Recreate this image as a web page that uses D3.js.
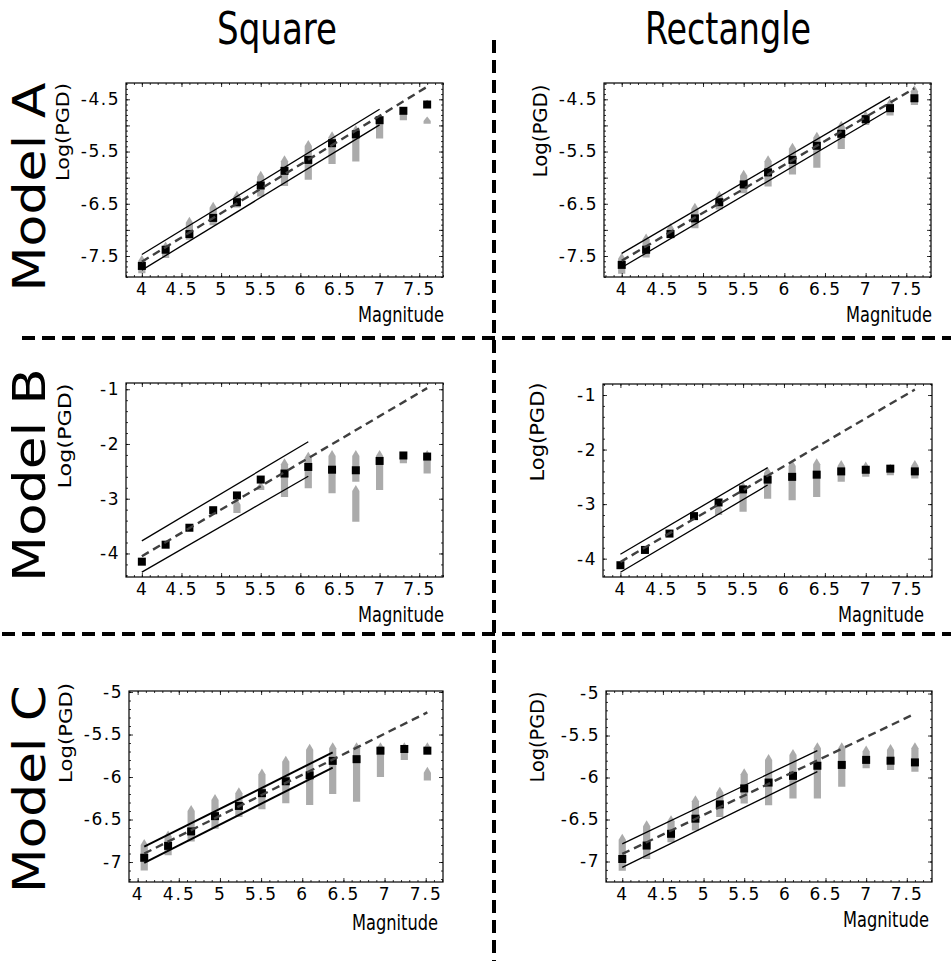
<!DOCTYPE html>
<html>
<head>
<meta charset="utf-8">
<script src="https://cdn.jsdelivr.net/npm/d3@7"></script>
<style>
  body { margin: 0; background: #fff; }
  svg { display: block; font-family: "DejaVu Sans", sans-serif; }
</style>
</head>
<body>
<script>
// ---- data ----
const mags = [4.0, 4.3, 4.6, 4.9, 5.2, 5.5, 5.8, 6.1, 6.4, 6.7, 7.0, 7.3, 7.6];
const magsCSquare = [4.08, 4.37, 4.65, 4.94, 5.23, 5.51, 5.8, 6.09, 6.37, 6.66, 6.95, 7.24, 7.52];

const xTickLabels = [4, 4.5, 5, 5.5, 6, 6.5, 7, 7.5];
const yTicksA = [-4.5, -5.5, -6.5, -7.5];
const yTicksB = [-1, -2, -3, -4];
const yTicksC = [-5, -5.5, -6, -6.5, -7];

// median Log(PGD) per magnitude (black squares)
const medASquare = [-7.69, -7.38, -7.08, -6.77, -6.47, -6.15, -5.87, -5.66, -5.34, -5.17, -4.9, -4.72, -4.6];
const medARect = [-7.67, -7.38, -7.08, -6.78, -6.47, -6.13, -5.9, -5.66, -5.39, -5.16, -4.88, -4.67, -4.48];
const medBSquare = [-4.15, -3.84, -3.53, -3.21, -2.94, -2.65, -2.54, -2.42, -2.47, -2.48, -2.31, -2.21, -2.23];
const medBRect = [-4.12, -3.84, -3.54, -3.22, -2.97, -2.73, -2.55, -2.5, -2.46, -2.4, -2.37, -2.35, -2.4];
const medCSquare = [-6.95, -6.81, -6.64, -6.46, -6.34, -6.19, -6.05, -5.98, -5.81, -5.79, -5.69, -5.67, -5.69];
const medCRect = [-6.97, -6.81, -6.67, -6.49, -6.32, -6.13, -6.06, -5.98, -5.86, -5.85, -5.79, -5.8, -5.82];

// grey scatter of all runs: [magnitude, lowest, highest]
const spreadASquare = [
  [4.0, -7.83, -7.48], [4.3, -7.54, -7.22], [4.6, -7.19, -6.75], [4.9, -6.91, -6.46],
  [5.2, -6.57, -6.25], [5.5, -6.36, -5.87], [5.8, -6.16, -5.57], [6.1, -6.04, -5.28],
  [6.4, -5.74, -5.11], [6.7, -5.69, -4.99], [7.0, -5.25, -4.86], [7.3, -4.9, -4.67],
  [7.6, -4.61, -4.51], [7.6, -4.97, -4.83]
];
const spreadARect = [
  [4.0, -7.84, -7.44], [4.3, -7.53, -7.07], [4.6, -7.16, -6.87], [4.9, -6.97, -6.48],
  [5.2, -6.61, -6.25], [5.5, -6.3, -5.85], [5.8, -6.17, -5.57], [6.1, -5.94, -5.33],
  [6.4, -5.81, -5.12], [6.7, -5.45, -4.91], [7.0, -4.99, -4.72], [7.3, -4.81, -4.48],
  [7.6, -4.61, -4.23]
];
const spreadBSquare = [
  [5.2, -3.26, -3.0], [5.5, -2.84, -2.69], [5.8, -2.97, -2.26], [6.1, -2.81, -2.14],
  [6.4, -2.9, -2.11], [6.7, -2.69, -2.11], [6.7, -3.42, -2.75], [7.0, -2.84, -2.11],
  [7.3, -2.35, -2.14], [7.6, -2.54, -2.11]
];
const spreadBRect = [
  [5.2, -3.2, -2.99], [5.5, -3.14, -2.59], [5.8, -2.9, -2.32], [6.1, -2.93, -2.19],
  [6.4, -2.87, -2.16], [6.7, -2.59, -2.19], [7.0, -2.5, -2.22], [7.3, -2.47, -2.26],
  [7.6, -2.53, -2.19]
];
const spreadCSquare = [
  [4.08, -7.1, -6.73], [4.37, -6.92, -6.63], [4.65, -6.76, -6.33], [4.94, -6.61, -6.2],
  [5.23, -6.47, -6.12], [5.51, -6.38, -5.9], [5.8, -6.31, -5.75], [6.09, -6.33, -5.61],
  [6.37, -6.2, -5.59], [6.66, -6.29, -5.59], [6.95, -6.0, -5.59], [7.24, -5.8, -5.59],
  [7.52, -5.71, -5.59], [7.52, -6.04, -5.88]
];
const spreadCRect = [
  [4.0, -7.11, -6.67], [4.3, -6.97, -6.51], [4.6, -6.77, -6.45], [4.9, -6.63, -6.21],
  [5.2, -6.47, -6.11], [5.5, -6.31, -5.89], [5.8, -6.33, -5.72], [6.1, -6.25, -5.66],
  [6.4, -6.25, -5.58], [6.7, -6.11, -5.58], [7.0, -5.89, -5.62], [7.3, -5.91, -5.6],
  [7.6, -5.93, -5.58]
];

// scaling law (dashed) and its band (solid), end points [magnitude, Log(PGD)]
const dashASquare = [[4, -7.61], [7.6, -4.26]];
const upperASquare = [[4, -7.47], [7, -4.69]];
const lowerASquare = [[4, -7.77], [7, -4.99]];
const dashARect = [[4, -7.59], [7.6, -4.29]];
const upperARect = [[4, -7.45], [7.3, -4.45]];
const lowerARect = [[4, -7.72], [7.3, -4.69]];
const dashBSquare = [[4, -4.05], [7.6, -0.98]];
const upperBSquare = [[4, -3.77], [6.1, -1.96]];
const lowerBSquare = [[4, -4.34], [6.1, -2.59]];
const dashBRect = [[4, -4.06], [7.6, -0.9]];
const upperBRect = [[4, -3.92], [5.8, -2.33]];
const lowerBRect = [[4, -4.25], [5.8, -2.65]];
const dashCSquare = [[4.08, -6.9], [7.52, -5.24]];
const upperCSquare = [[4.08, -6.82], [6.37, -5.71]];
const lowerCSquare = [[4.08, -7.01], [6.37, -5.89]];
const dashCRect = [[4, -6.91], [7.6, -5.24]];
const upperCRect = [[4, -6.79], [6.4, -5.68]];
const lowerCRect = [[4, -7.07], [6.4, -5.93]];

// ---- layout ----
const W = 951, H = 961;

const panels = [
  { box: [126, 83, 443, 277], xd: [3.8, 7.8], yd: [-7.902, -4.188], mags: mags, med: medASquare,
    spread: spreadASquare, dash: dashASquare, upper: upperASquare, lower: lowerASquare,
    yTicks: yTicksA, yMinor: 0.1, yMajor: 0.5, ylab: [63, 132, 17, 98], mag: [358, 322], lw: 1.3 },
  { box: [604, 83, 931, 277], xd: [3.782, 7.804], yd: [-7.902, -4.188], mags: mags, med: medARect,
    spread: spreadARect, dash: dashARect, upper: upperARect, lower: lowerARect,
    yTicks: yTicksA, yMinor: 0.1, yMajor: 0.5, ylab: [540, 131, 20, 93], mag: [846, 322], lw: 1.3 },
  { box: [126, 383, 443, 577], xd: [3.8, 7.8], yd: [-4.43, -0.886], mags: mags, med: medBSquare,
    spread: spreadBSquare, dash: dashBSquare, upper: upperBSquare, lower: lowerBSquare,
    yTicks: yTicksB, yMinor: 0.2, yMajor: 1, ylab: [65, 436, 18, 105], mag: [358, 622], lw: 1.3 },
  { box: [603, 384, 932, 577], xd: [3.787, 7.81], yd: [-4.336, -0.798], mags: mags, med: medBRect,
    spread: spreadBRect, dash: dashBRect, upper: upperBRect, lower: lowerBRect,
    yTicks: yTicksB, yMinor: 0.2, yMajor: 1, ylab: [537, 432, 20, 99], mag: [838, 622], lw: 1.3 },
  { box: [129, 691, 443, 882], xd: [3.895, 7.71], yd: [-7.235, -4.988], mags: magsCSquare, med: medCSquare,
    spread: spreadCSquare, dash: dashCSquare, upper: upperCSquare, lower: lowerCSquare,
    yTicks: yTicksC, yMinor: 0.1, yMajor: 0.5, ylab: [66, 733, 18, 100], mag: [352, 930], lw: 2 },
  { box: [606, 691, 932, 882], xd: [3.8, 7.81], yd: [-7.244, -4.97], mags: mags, med: medCRect,
    spread: spreadCRect, dash: dashCRect, upper: upperCRect, lower: lowerCRect,
    yTicks: yTicksC, yMinor: 0.1, yMajor: 0.5, ylab: [537, 737, 20, 91], mag: [843, 927], lw: 1.3 }
];

const svg = d3.select("body").append("svg").attr("width", W).attr("height", H);

const narrow = "'Liberation Sans Narrow', 'DejaVu Sans Condensed', sans-serif";

// column titles
svg.append("text").attr("x", 217).attr("y", 44)
  .style("font-family", narrow)
  .style("font-size", "45px").attr("textLength", 120).attr("lengthAdjust", "spacingAndGlyphs")
  .text("Square");
svg.append("text").attr("x", 645).attr("y", 44)
  .style("font-family", narrow)
  .style("font-size", "45px").attr("textLength", 166).attr("lengthAdjust", "spacingAndGlyphs")
  .text("Rectangle");

// row titles
const rows = [["Model A", 187, 209], ["Model B", 475, 214], ["Model C", 789, 208]];
rows.forEach(([t, cy, len]) => {
  svg.append("text")
    .attr("transform", "translate(45," + (cy + len / 2) + ") rotate(-90)")
    .style("font-size", "44px")
    .attr("textLength", len).attr("lengthAdjust", "spacingAndGlyphs")
    .text(t);
});

// dashed separators
const sep = svg.append("g").attr("stroke", "#000").attr("stroke-width", 4).attr("stroke-dasharray", "13,7");
sep.append("line").attr("x1", 494).attr("x2", 494).attr("y1", 40).attr("y2", H);
sep.append("line").attr("x1", 22).attr("x2", W).attr("y1", 338).attr("y2", 338);
sep.append("line").attr("x1", 2).attr("x2", W).attr("y1", 634).attr("y2", 634);

const steps = (lo, hi, step) =>
  d3.range(Math.ceil(lo / step - 1e-9), Math.floor(hi / step + 1e-9) + 1).map((i) => +(i * step).toFixed(3));

const fmt = (d) => (Number.isInteger(d) ? String(d) : d.toFixed(1));

panels.forEach((p) => {
  const [x0, y0, x1, y1] = p.box;
  const x = d3.scaleLinear().domain(p.xd).range([x0, x1]);
  const y = d3.scaleLinear().domain(p.yd).range([y1, y0]);
  const g = svg.append("g");

  // clip
  const cid = "clip" + x0 + "_" + y0;
  svg.append("clipPath").attr("id", cid).append("rect")
    .attr("x", x0).attr("y", y0).attr("width", x1 - x0).attr("height", y1 - y0);
  const plot = g.append("g").attr("clip-path", "url(#" + cid + ")");

  // grey run clouds
  const hw = 3.6, cap = 6;
  plot.selectAll("path.cloud").data(p.spread).enter().append("path")
    .attr("class", "cloud")
    .attr("fill", "#ababab")
    .attr("d", (d) => {
      const cx = x(d[0]), top = y(d[2]), bot = y(d[1]);
      const c = Math.min(cap, (bot - top) * 0.6);
      return "M" + (cx - hw) + "," + bot + "L" + (cx - hw) + "," + (top + c) + "L" + cx + "," + top +
        "L" + (cx + hw) + "," + (top + c) + "L" + (cx + hw) + "," + bot + "Z";
    });

  // band and scaling law
  const line = d3.line().x((d) => x(d[0])).y((d) => y(d[1]));
  plot.append("path").attr("d", line(p.upper)).attr("fill", "none").attr("stroke", "#000").attr("stroke-width", p.lw);
  plot.append("path").attr("d", line(p.lower)).attr("fill", "none").attr("stroke", "#000").attr("stroke-width", p.lw);

  // medians
  const s = 8;
  plot.selectAll("rect.med").data(p.med).enter().append("rect")
    .attr("class", "med")
    .attr("x", (d, i) => x(p.mags[i]) - s / 2)
    .attr("y", (d) => y(d) - s / 2)
    .attr("width", s).attr("height", s)
    .attr("fill", "#000");

  plot.append("path").attr("d", line(p.dash)).attr("fill", "none")
    .attr("stroke", "#3f3f3f").attr("stroke-width", 2.4).attr("stroke-dasharray", "8,5");

  // frame ticks (inward on all sides)
  const xMinor = steps(p.xd[0], p.xd[1], 0.1);
  const xMajor = steps(p.xd[0], p.xd[1], 0.5);
  const yMinor = steps(p.yd[0], p.yd[1], p.yMinor);
  const yMajor = steps(p.yd[0], p.yd[1], p.yMajor);
  const tickAxis = (axis, vals, size, tr) => {
    const a = g.append("g").attr("transform", tr)
      .call(axis.tickValues(vals).tickSizeInner(-size).tickSizeOuter(0).tickFormat(""));
    a.select(".domain").remove();
    a.selectAll("line").attr("stroke", "#000").attr("stroke-width", 0.8);
  };
  tickAxis(d3.axisBottom(x), xMinor, 2, "translate(0," + y1 + ")");
  tickAxis(d3.axisBottom(x), xMajor, 4, "translate(0," + y1 + ")");
  tickAxis(d3.axisTop(x), xMinor, 2, "translate(0," + y0 + ")");
  tickAxis(d3.axisTop(x), xMajor, 4, "translate(0," + y0 + ")");
  tickAxis(d3.axisLeft(y), yMinor, 2, "translate(" + x0 + ",0)");
  tickAxis(d3.axisLeft(y), yMajor, 4, "translate(" + x0 + ",0)");
  tickAxis(d3.axisRight(y), yMinor, 2, "translate(" + x1 + ",0)");
  tickAxis(d3.axisRight(y), yMajor, 4, "translate(" + x1 + ",0)");

  g.append("rect").attr("x", x0).attr("y", y0).attr("width", x1 - x0).attr("height", y1 - y0)
    .attr("fill", "none").attr("stroke", "#000").attr("stroke-width", 1.2);

  // tick labels
  const xa = g.append("g").attr("transform", "translate(0," + y1 + ")")
    .call(d3.axisBottom(x).tickValues(xTickLabels).tickSize(0).tickPadding(6).tickFormat(fmt));
  xa.select(".domain").remove();
  xa.selectAll("text").style("font-family", "'DejaVu Sans', sans-serif").style("font-size", "17px")
    .style("letter-spacing", "2px").attr("fill", "#000");

  const ya = g.append("g").attr("transform", "translate(" + x0 + ",0)")
    .call(d3.axisLeft(y).tickValues(p.yTicks).tickSize(0).tickPadding(6).tickFormat(fmt));
  ya.select(".domain").remove();
  ya.selectAll("text").style("font-family", "'DejaVu Sans', sans-serif").style("font-size", "17px")
    .style("letter-spacing", "1.5px").attr("fill", "#000");

  // axis titles
  g.append("text").attr("x", p.mag[0]).attr("y", p.mag[1])
    .style("font-family", narrow)
    .style("font-size", "21px").attr("textLength", 86).attr("lengthAdjust", "spacingAndGlyphs")
    .text("Magnitude");

  const [lx, ly, lfs, llen] = p.ylab;
  g.append("text").attr("transform", "translate(" + (lx + lfs * 0.35) + "," + (ly + llen / 2) + ") rotate(-90)")
    .style("font-size", lfs + "px")
    .attr("textLength", llen).attr("lengthAdjust", "spacingAndGlyphs")
    .text("Log(PGD)");
});
</script>
</body>
</html>
